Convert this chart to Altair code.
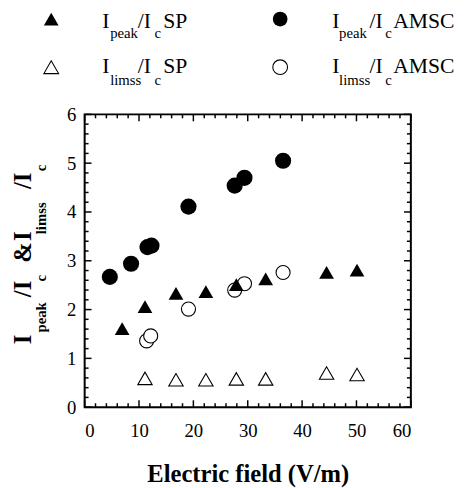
import altair as alt
import pandas as pd

# ---- data ----
sp_peak_x = [6.9, 11.1, 16.8, 22.3, 27.9, 33.3, 44.5, 50.1]
sp_peak_y = [1.61, 2.06, 2.33, 2.37, 2.51, 2.63, 2.76, 2.81]
sp_lim_x = [11.1, 16.8, 22.3, 27.9, 33.3, 44.5, 50.1]
sp_lim_y = [0.59, 0.56, 0.56, 0.58, 0.58, 0.70, 0.67]
amsc_peak_x = [4.63, 8.54, 11.55, 12.3, 19.1, 27.6, 29.4, 36.5]
amsc_peak_y = [2.67, 2.94, 3.28, 3.31, 4.11, 4.54, 4.70, 5.05]
amsc_lim_x = [11.4, 12.15, 19.1, 27.6, 29.4, 36.5]
amsc_lim_y = [1.36, 1.46, 2.01, 2.40, 2.53, 2.76]

x_major = [0, 10, 20, 30, 40, 50, 60]
x_minor = [v for v in range(0, 61, 2) if v % 10 != 0]
y_major = [0, 1, 2, 3, 4, 5, 6]
y_minor = [round(i * 0.2, 1) for i in range(31) if i % 5 != 0]

x_title = "Electric field (V/m)"
legend_subs = ["peak", "limss", "peak", "limss"]
legend_tails = ["SP", "SP", "AMSC", "AMSC"]

W, H = 332, 298
FONT = "Liberation Serif, Times New Roman, DejaVu Serif, serif"

xs = alt.Scale(domain=[0, 60], nice=False, zero=False)
ys = alt.Scale(domain=[0, 6], nice=False, zero=False)

X_AX = alt.Axis(
    values=x_major, ticks=False, domain=False, grid=False,
    labelFont=FONT, labelFontSize=19, labelColor="black", labelPadding=15,
    title=x_title, titleFont=FONT, titleFontSize=25, titleFontWeight="bold",
    titleColor="black", titlePadding=22)
Y_AX = alt.Axis(
    values=y_major, ticks=False, domain=False, grid=False,
    labelFont=FONT, labelFontSize=19, labelColor="black", labelPadding=9,
    title=None)


def X(field):
    return alt.X(field, scale=xs, axis=X_AX, title=x_title)


def Y(field):
    return alt.Y(field, scale=ys, axis=Y_AX, title=None)


def series(xv, yv, shape, filled, size):
    df = pd.DataFrame({"x": xv, "y": yv})
    return alt.Chart(df).mark_point(
        shape=shape, filled=filled, size=size,
        fill="black" if filled else "white",
        stroke="black", strokeWidth=0 if filled else 1.1, opacity=1,
    ).encode(x=X("x:Q"), y=Y("y:Q"))


def xticks(vals, length):
    df = pd.DataFrame({"v": vals})
    base = alt.Chart(df).mark_rule(color="black", strokeWidth=1.5)
    bot = base.encode(x=X("v:Q"), y=alt.value(H), y2=alt.value(H - length))
    top = base.encode(x=X("v:Q"), y=alt.value(0), y2=alt.value(length))
    return [bot, top]


def yticks(vals, length):
    df = pd.DataFrame({"v": vals})
    base = alt.Chart(df).mark_rule(color="black", strokeWidth=1.5)
    left = base.encode(y=Y("v:Q"), x=alt.value(0), x2=alt.value(length))
    right = base.encode(y=Y("v:Q"), x=alt.value(W), x2=alt.value(W - length))
    return [left, right]


ticks = xticks(x_major, 7) + xticks(x_minor, 4) + yticks(y_major, 7) + yticks(y_minor, 4)

one = pd.DataFrame({"a": [0]})

frame = alt.Chart(one).mark_rect(
    fill=None, stroke="black", strokeWidth=2
).encode(x=alt.value(0), x2=alt.value(W), y=alt.value(0), y2=alt.value(H))


def piece(txt, px, py, size, bold=False, angle=0):
    return alt.Chart(one).mark_text(
        text=txt, font=FONT, fontSize=size, fontWeight="bold" if bold else "normal",
        align="left", baseline="alphabetic", angle=angle, color="black",
    ).encode(x=alt.value(px), y=alt.value(py))


texts = []
# legend
col_x = [[18, 26, 54, 71, 80], [18, 26, 54, 71, 80], [252, 259, 290, 306, 314], [252, 259, 290, 306, 314]]
row_main = [-88, -42, -88, -42]
row_sub = [-78, -30, -78, -30]
for i in range(4):
    cx = col_x[i]
    texts.append(piece("I", cx[0], row_main[i], 22))
    texts.append(piece(legend_subs[i], cx[1], row_sub[i], 15))
    texts.append(piece("/I", cx[2], row_main[i], 22))
    texts.append(piece("c", cx[3], row_sub[i], 15))
    texts.append(piece(legend_tails[i], cx[4], row_main[i], 22))

leg_sym = [("triangle-up", True, -34, -97), ("triangle-up", False, -34, -48),
           ("circle", True, 199, -97), ("circle", False, 199, -48)]
for shp, fil, sx, sy in leg_sym:
    texts.append(alt.Chart(one).mark_point(
        shape=shp, filled=fil, size=225, fill="black" if fil else "white",
        stroke="black", strokeWidth=0 if fil else 1.1, opacity=1,
    ).encode(x=alt.value(sx), y=alt.value(sy)))

# y-axis title, rotated
MX, SX = -55, -39
ytitle = [("I", MX, 234, 25), ("peak", SX, 222, 15), ("/I", MX, 186, 25), ("c", SX, 170, 15),
          ("&", MX, 151, 25), ("I", MX, 129, 25), ("limss", SX, 122, 15), ("/I", MX, 76, 25),
          ("c", SX, 58, 15)]
for t, px, py, sz in ytitle:
    texts.append(piece(t, px, py, sz, bold=True, angle=270))

layers = [series(sp_lim_x, sp_lim_y, "triangle-up", False, 215),
          series(amsc_lim_x, amsc_lim_y, "circle", False, 205),
          series(sp_peak_x, sp_peak_y, "triangle-up", True, 225),
          series(amsc_peak_x, amsc_peak_y, "circle", True, 270),
          ] + ticks + [frame] + texts

chart = alt.layer(*layers).properties(
    width=W, height=H,
    padding={"left": 78, "top": 104, "right": 48, "bottom": 78},
    autosize=alt.AutoSizeParams(type="none"),
).configure_view(stroke=None).configure(background="white")

chart.save("out.html", embed_options={"renderer": "svg", "actions": False})
